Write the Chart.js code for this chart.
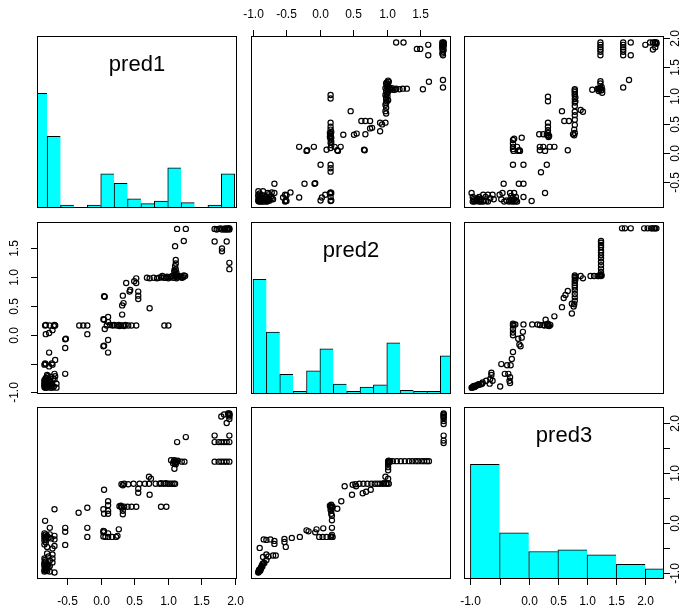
<!DOCTYPE html>
<html>
<head>
<meta charset="utf-8">
<script src="https://cdn.jsdelivr.net/npm/chart.js@4.4.0/dist/chart.umd.min.js"></script>
<style>
html, body { margin: 0; padding: 0; background: #fff; }
#wrap { position: relative; width: 692px; height: 612px; }
#wrap canvas { position: absolute; left: 0; top: 0; }
</style>
</head>
<body>
<div id="wrap"></div>
<script>
// variables and their plotting ranges
var names = ["pred1", "pred2", "pred3"];
var limits = [[-0.951, 2.034], [-1.03, 1.96], [-1.11, 2.32]];

// histograms (bar heights relative to the tallest bin)
var breaks12 = [-1.0, -0.8, -0.6, -0.4, -0.2, 0.0, 0.2, 0.4, 0.6, 0.8, 1.0, 1.2, 1.4, 1.6, 1.8, 2.0];
var hist1 = [1.0, 0.626, 0.026, 0.0, 0.026, 0.298, 0.216, 0.079, 0.038, 0.061, 0.351, 0.047, 0.0, 0.026, 0.298];
var hist2 = [1.0, 0.539, 0.172, 0.023, 0.201, 0.394, 0.087, 0.023, 0.061, 0.079, 0.446, 0.032, 0.023, 0.023, 0.332];
var breaks3 = [-1.0, -0.5, 0.0, 0.5, 1.0, 1.5, 2.0, 2.5];
var hist3 = [1.0, 0.402, 0.240, 0.255, 0.211, 0.129, 0.088];

// axis ticks
var ticks1 = [-0.5, 0, 0.5, 1, 1.5, 2];
var ticks2 = [-1, -0.5, 0, 0.5, 1, 1.5];
var ticks3 = [-1, -0.5, 0, 0.5, 1, 1.5, 2];
var labels1 = ["-0.5", "0.0", "0.5", "1.0", "1.5", "2.0"];
var labels2top = ["-1.0", "-0.5", "0.0", "0.5", "1.0", "1.5"];
var labels2left = ["-1.0", "", "0.0", "0.5", "1.0", "1.5"];
var labels3bottom = ["-1.0", "", "0.0", "0.5", "1.0", "1.5", "2.0"];
var labels3right = ["-1.0", "", "0.0", "", "1.0", "", "2.0"];

// pairs [pred1, pred2]
var pts12 = [
  [1.92,1.14],[1.92,1.25],[1.81,1.45],[1.81,1.50],[1.88,1.62],[1.70,1.62],
  [1.92,1.83],[1.91,1.85],[1.90,1.84],[1.88,1.83],[1.86,1.85],[1.84,1.84],[1.81,1.83],[1.79,1.85],[1.76,1.84],[1.73,1.83],[1.70,1.84],
  [1.92,1.85],[1.89,1.85],[1.85,1.83],
  [1.27,1.84],[1.14,1.84],[1.24,1.63],[1.11,1.54],
  [1.26,1.02],[1.23,1.00],[1.19,1.01],[1.15,1.00],[1.12,1.02],[1.08,0.99],[1.03,1.00],[0.99,1.01],[0.94,0.99],[0.90,1.00],
  [0.84,0.98],[0.79,0.99],[0.73,0.98],[0.69,0.99],[1.10,1.03],[1.05,1.01],[0.97,0.99],[1.17,1.02],[1.01,0.98],
  [1.24,1.03],[1.21,0.99],[1.13,0.98],[1.07,1.02],[0.92,1.02],[0.87,0.99],
  [1.12,1.05],[1.10,1.09],[1.12,1.14],[1.11,1.19],[1.12,1.24],[1.12,1.30],[1.10,1.12],[1.13,1.08],
  [0.53,0.90],[0.50,0.93],[0.53,0.98],[0.38,0.90],[0.43,0.75],[0.44,0.78],[0.56,0.62],[0.56,0.68],[0.56,0.75],
  [0.73,0.46],[0.33,0.68],[0.32,0.51],[0.34,0.55],[0.32,0.35],[0.05,0.67],[0.06,0.66],
  [1.01,0.16],[0.95,0.16],[0.53,0.16],[0.46,0.16],[0.41,0.16],[0.37,0.17],[0.33,0.16],[0.30,0.16],[0.27,0.17],[0.24,0.16],
  [0.18,0.16],[0.14,0.17],[0.09,0.16],[-0.20,0.16],[-0.26,0.16],[-0.32,0.16],[-0.68,0.16],[-0.76,0.16],[-0.83,0.16],
  [0.35,0.15],[0.28,0.15],[0.20,0.17],[-0.82,0.17],[-0.69,0.17],
  [0.06,0.10],[0.11,0.22],[0.05,0.26],[0.04,0.27],[0.11,0.31],
  [0.11,-0.31],[0.04,-0.20],[0.05,-0.19],[0.11,-0.09],[-0.20,0.01],
  [-0.53,-0.68],[-0.53,-0.23],[-0.53,-0.08],[-0.52,-0.07],
  [-0.82,0.01],[-0.77,0.03],[-0.72,0.08],[-0.70,0.15],[-0.77,-0.31],
  [-0.68,-0.44],[-0.72,-0.52],[-0.84,-0.52],[-0.77,-0.55],[-0.83,-0.50],[-0.82,-0.51],[-0.73,-0.50],
  [-0.66,-0.92],[-0.66,-0.85],[-0.69,-0.78],[-0.69,-0.68],[-0.75,-0.92],[-0.77,-0.88],[-0.80,-0.83],[-0.79,-0.78],
  [-0.75,-0.73],[-0.80,-0.70],[-0.83,-0.90],[-0.81,-0.92],[-0.84,-0.91],[-0.71,-0.76],[-0.82,-0.86],[-0.84,-0.88],
  [-0.84,-0.82],[-0.78,-0.90],[-0.73,-0.86],[-0.83,-0.78],[-0.80,-0.76],[-0.70,-0.90],[-0.75,-0.80],[-0.82,-0.75],
  [-0.68,-0.72],[-0.72,-0.92],[-0.78,-0.85],[-0.83,-0.92],[-0.82,-0.89],[-0.80,-0.91],[-0.84,-0.86],[-0.83,-0.84],
  [-0.81,-0.80],[-0.77,-0.82],[-0.74,-0.89],[-0.84,-0.79],[-0.79,-0.72]
];

// pairs [pred1, pred3]
var pts13 = [
  [1.92,1.23],[1.88,1.23],[1.84,1.23],[1.80,1.23],[1.76,1.23],[1.70,1.23],
  [1.92,1.62],[1.88,1.62],[1.84,1.62],[1.80,1.62],[1.76,1.62],[1.70,1.62],[1.92,1.75],[1.70,1.75],
  [1.88,2.00],[1.92,2.08],[1.92,2.13],[1.92,2.17],[1.92,2.19],[1.80,2.13],[1.84,2.17],[1.90,2.19],[1.92,2.16],
  [1.14,1.62],[1.27,1.72],
  [1.10,1.09],[1.12,1.18],[1.13,1.23],[1.25,1.23],[1.21,1.23],[1.10,1.26],[1.05,1.26],[1.08,1.20],[1.15,1.25],
  [1.12,1.22],[1.09,1.24],[1.11,1.20],
  [1.11,0.79],[1.06,0.79],[1.00,0.79],[0.94,0.79],[0.88,0.79],[0.82,0.79],[0.72,0.79],[0.66,0.79],[0.58,0.79],
  [0.49,0.79],[0.41,0.78],[0.35,0.79],[0.31,0.78],[0.33,0.76],[1.09,0.79],[1.03,0.79],[0.97,0.80],[0.90,0.80],
  [0.75,0.89],[0.72,0.93],[0.73,0.57],[0.56,0.61],[0.56,0.69],[0.05,0.67],
  [0.98,0.33],[0.90,0.33],[0.53,0.33],[0.46,0.33],[0.40,0.33],[0.35,0.33],[0.31,0.33],[0.28,0.34],[0.32,0.31],[0.30,0.35],
  [0.33,0.18],[0.33,0.25],[0.11,0.19],[0.11,0.25],[0.11,0.36],[0.11,0.44],[0.05,0.19],[0.04,0.28],
  [-0.20,0.31],[-0.33,0.21],[-0.69,0.28],
  [0.23,-0.27],[0.17,-0.27],[0.11,-0.27],[0.07,-0.27],[0.04,-0.26],[0.25,-0.25],[0.27,-0.12],[0.11,-0.20],
  [0.04,-0.18],[0.04,-0.15],[0.05,-0.16],
  [-0.20,-0.27],[-0.20,-0.09],
  [-0.53,-0.43],[-0.53,-0.17],[-0.53,-0.09],
  [-0.76,-0.09],[-0.83,0.05],
  [-0.69,-0.45],[-0.72,-0.50],[-0.80,-0.47],[-0.84,-0.42],[-0.69,-0.32],[-0.74,-0.30],[-0.82,-0.33],[-0.84,-0.28],
  [-0.80,-0.25],[-0.69,-0.25],[-0.76,-0.22],[-0.84,-0.20],[-0.82,-0.38],[-0.78,-0.28],[-0.84,-0.34],
  [-0.83,-0.30],[-0.81,-0.27],[-0.84,-0.24],[-0.82,-0.22],
  [-0.69,-0.98],[-0.76,-0.96],[-0.80,-0.95],[-0.84,-0.93],[-0.82,-0.90],[-0.78,-0.88],[-0.84,-0.85],[-0.80,-0.82],
  [-0.72,-0.78],[-0.76,-0.74],[-0.82,-0.76],[-0.84,-0.70],[-0.72,-0.70],[-0.78,-0.66],[-0.72,-0.62],[-0.80,-0.60],
  [-0.84,-0.78],[-0.80,-0.88],[-0.84,-0.96],[-0.76,-0.85],[-0.83,-0.89],[-0.82,-0.94],[-0.84,-0.82],[-0.81,-0.85],
  [-0.83,-0.73]
];

// pairs [pred2, pred3]
var pts23 = [
  [1.85,1.60],[1.85,1.65],[1.85,1.75],[1.85,1.98],[1.85,2.04],[1.85,2.10],[1.85,2.15],[1.85,2.19],[1.85,2.12],[1.85,2.17],
  [1.63,1.24],[1.60,1.24],[1.56,1.24],[1.52,1.24],[1.47,1.24],[1.43,1.24],[1.38,1.24],[1.33,1.24],[1.27,1.24],
  [1.21,1.24],[1.15,1.24],[1.09,1.24],[1.05,1.24],[1.02,1.24],[1.02,1.20],[1.03,1.22],[1.04,1.23],[1.03,1.25],
  [1.02,1.06],[1.02,1.12],[1.02,1.18],
  [1.03,0.79],[0.99,0.79],[0.94,0.79],[0.90,0.79],[0.86,0.79],[0.82,0.79],[0.77,0.79],[0.71,0.79],[0.65,0.79],
  [0.59,0.79],[0.53,0.78],[1.01,0.80],[0.96,0.80],
  [1.02,0.89],[0.98,0.93],
  [0.76,0.67],[0.69,0.63],[0.64,0.60],[0.48,0.57],[0.37,0.74],[0.54,0.74],[0.49,0.77],
  [0.32,0.44],
  [0.18,0.15],[0.17,0.19],[0.17,0.25],[0.26,0.29],[0.17,0.31],[0.15,0.35],[0.17,0.37],[0.19,0.33],[0.18,0.06],[0.16,0.27],
  [0.18,0.31],[0.16,0.33],
  [0.19,-0.27],[0.16,-0.27],[0.10,-0.27],[0.04,-0.27],[-0.01,-0.27],[0.18,-0.23],[0.18,-0.09],[0.17,-0.26],
  [0.05,-0.10],[-0.05,-0.12],[-0.07,-0.18],[-0.17,-0.16],[-0.20,-0.14],
  [-0.30,-0.27],[-0.42,-0.29],[-0.53,-0.31],[-0.53,-0.37],
  [-0.68,-0.35],[-0.68,-0.41],[-0.74,-0.32],[-0.80,-0.33],[-0.84,-0.32],[-0.90,-0.49],
  [-0.66,-0.64],[-0.70,-0.64],[-0.51,-0.47],[-0.77,-0.66],[-0.80,-0.62],[-0.85,-0.67],
  [-0.80,-0.73],[-0.83,-0.79],[-0.86,-0.82],[-0.87,-0.85],[-0.89,-0.91],[-0.90,-0.95],[-0.92,-0.98],[-0.88,-0.88],
  [-0.85,-0.80],[-0.91,-0.96],[-0.90,-0.92],[-0.86,-0.86],[-0.92,-0.97],[-0.89,-0.94],[-0.88,-0.90],[-0.91,-0.93]
];

// layout of the 3x3 grid
var W = 692, H = 612;
var colLeft = [37, 251, 464], panelW = 200;
var rowTop = [36, 222, 407], panelH = 172;
var FONT = '"Liberation Sans", Arial, Helvetica, sans-serif';

var framePlugin = {
  id: 'frame',
  afterDatasetsDraw: function(chart, args, o) {
    var a = chart.chartArea, c = chart.ctx;
    c.save();
    c.strokeStyle = '#000';
    c.fillStyle = '#000';
    c.lineWidth = 1;
    c.strokeRect(a.left + 0.5, a.top + 0.5, a.right - a.left - 1, a.bottom - a.top - 1);
    if (o.title) {
      c.font = '22px ' + FONT;
      c.textAlign = 'center';
      c.textBaseline = 'alphabetic';
      c.fillText(o.title, (a.left + a.right) / 2, a.top + 34.5);
    }
    c.font = '12px ' + FONT;
    c.textAlign = 'center';
    c.textBaseline = 'middle';
    (o.axes || []).forEach(function(ax) {
      var sc = chart.scales[ax.scale];
      ax.ticks.forEach(function(v, k) {
        var p = Math.round(sc.getPixelForValue(v)) + 0.5;
        var t = ax.labels[k];
        c.beginPath();
        if (ax.side === 'top') { c.moveTo(p, a.top); c.lineTo(p, a.top - 6); }
        if (ax.side === 'bottom') { c.moveTo(p, a.bottom); c.lineTo(p, a.bottom + 6); }
        if (ax.side === 'left') { c.moveTo(a.left, p); c.lineTo(a.left - 6, p); }
        if (ax.side === 'right') { c.moveTo(a.right, p); c.lineTo(a.right + 6, p); }
        c.stroke();
        if (!t) return;
        if (ax.side === 'top') c.fillText(t, p, a.top - 21);
        if (ax.side === 'bottom') c.fillText(t, p, a.bottom + 23);
        if (ax.side === 'left' || ax.side === 'right') {
          c.save();
          c.translate(ax.side === 'left' ? a.left - 22.5 : a.right + 12, p);
          c.rotate(-Math.PI / 2);
          c.fillText(t, 0, 0);
          c.restore();
        }
      });
    });
    c.restore();
  }
};

function axesFor(i, j) {
  var list = [];
  if (i === 0 && j === 1) list.push({ side: 'top', scale: 'x', ticks: ticks2, labels: labels2top });
  if (i === 0 && j === 2) list.push({ side: 'right', scale: 'y', ticks: ticks1, labels: labels1 });
  if (i === 1 && j === 0) list.push({ side: 'left', scale: 'y', ticks: ticks2, labels: labels2left });
  if (i === 2 && j === 0) list.push({ side: 'bottom', scale: 'x', ticks: ticks1, labels: labels1 });
  if (i === 2 && j === 2) {
    list.push({ side: 'bottom', scale: 'x', ticks: ticks3, labels: labels3bottom });
    list.push({ side: 'right', scale: 'y2', ticks: ticks3, labels: labels3right });
  }
  return list;
}

function pairPoints(i, j) {
  var src = { '01': pts12, '02': pts13, '12': pts23 };
  if (i < j) return src['' + i + j].map(function(p) { return { x: p[1], y: p[0] }; });
  return src['' + j + i].map(function(p) { return { x: p[0], y: p[1] }; });
}

function histData(k) {
  var br = k === 2 ? breaks3 : breaks12;
  var h = [hist1, hist2, hist3][k];
  return h.map(function(v, n) { return { x: (br[n] + br[n + 1]) / 2, y: v }; });
}

var wrap = document.getElementById('wrap');
for (var i = 0; i < 3; i++) {
  for (var j = 0; j < 3; j++) {
    var cv = document.createElement('canvas');
    cv.width = W; cv.height = H;
    cv.style.width = W + 'px'; cv.style.height = H + 'px';
    wrap.appendChild(cv);

    var pad = {
      left: colLeft[j], top: rowTop[i],
      right: W - colLeft[j] - panelW, bottom: H - rowTop[i] - panelH
    };
    var scales = {
      x: { type: 'linear', display: false, offset: false, min: limits[j][0], max: limits[j][1] },
      y: { type: 'linear', display: false, offset: false, min: limits[i][0], max: limits[i][1] }
    };
    var cfg;
    if (i === j) {
      var n = [hist1, hist2, hist3][i].length;
      scales.y = { type: 'linear', display: false, offset: false, min: 0, max: 1.5 };
      scales.y2 = { type: 'linear', display: false, offset: false, position: 'right', min: limits[i][0], max: limits[i][1] };
      cfg = {
        type: 'bar',
        data: { datasets: [{
          data: histData(i),
          backgroundColor: '#00FFFF',
          borderColor: '#000000',
          borderSkipped: false,
          borderWidth: (function(n) {
            return function(ctx) { return { top: 1, left: 1, bottom: 0, right: ctx.dataIndex === n - 1 ? 1 : 0 }; };
          })(n),
          barThickness: 'flex',
          barPercentage: 1,
          categoryPercentage: 1,
          clip: 0
        }] }
      };
    } else {
      cfg = {
        type: 'scatter',
        data: { datasets: [{
          data: pairPoints(i, j),
          pointRadius: 2.6,
          pointBorderWidth: 1.2,
          pointBorderColor: '#000000',
          pointBackgroundColor: 'rgba(0,0,0,0)',
          showLine: false
        }] }
      };
    }
    cfg.options = {
      responsive: false,
      animation: false,
      events: [],
      layout: { padding: pad },
      scales: scales,
      plugins: {
        legend: { display: false },
        tooltip: { enabled: false },
        frame: { title: i === j ? names[i] : null, axes: axesFor(i, j) }
      }
    };
    cfg.plugins = [framePlugin];
    new Chart(cv.getContext('2d'), cfg);
  }
}
</script>
</body>
</html>
